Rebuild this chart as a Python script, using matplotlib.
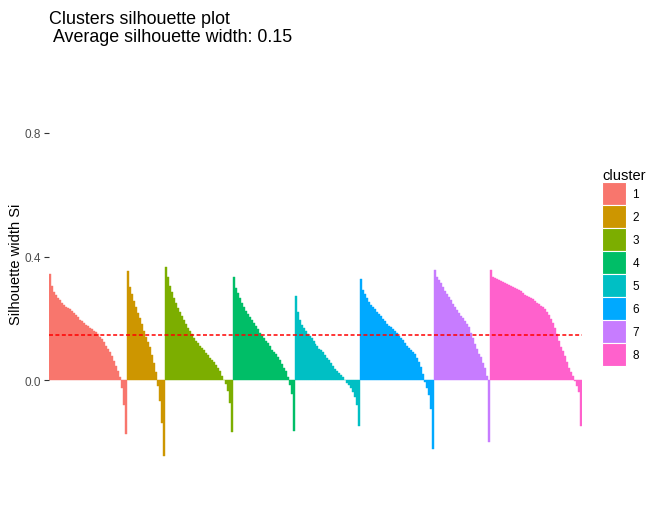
import numpy as np
import matplotlib.pyplot as plt
from matplotlib.patches import Patch

plt.rcParams['font.family'] = ['Liberation Sans', 'DejaVu Sans']

# silhouette widths per cluster, sorted within each cluster
sil_c1 = [0.343, 0.305, 0.286, 0.276, 0.267, 0.259, 0.250, 0.242, 0.238, 0.233,
          0.229, 0.223, 0.217, 0.210, 0.204, 0.196, 0.190, 0.185, 0.179, 0.174,
          0.169, 0.165, 0.160, 0.155, 0.148, 0.141, 0.132, 0.122, 0.111, 0.100,
          0.090, 0.077, 0.063, 0.047, 0.030, 0.009, -0.025, -0.080, -0.175]
sil_c2 = [0.353, 0.300, 0.280, 0.257, 0.237, 0.218, 0.200, 0.181, 0.160, 0.141,
          0.125, 0.106, 0.081, 0.055, 0.027, -0.018, -0.067, -0.140, -0.245]
sil_c3 = [0.366, 0.333, 0.306, 0.284, 0.265, 0.249, 0.234, 0.221, 0.207, 0.194,
          0.181, 0.170, 0.160, 0.149, 0.137, 0.127, 0.119, 0.112, 0.104, 0.097,
          0.088, 0.080, 0.073, 0.066, 0.058, 0.049, 0.039, 0.028, 0.015, 0.002,
          -0.012, -0.035, -0.075, -0.169]
sil_c4 = [0.333, 0.297, 0.281, 0.265, 0.251, 0.237, 0.225, 0.214, 0.203, 0.194,
          0.185, 0.176, 0.165, 0.154, 0.143, 0.136, 0.128, 0.119, 0.109, 0.099,
          0.090, 0.083, 0.074, 0.065, 0.052, 0.040, 0.028, 0.011, -0.015, -0.045,
          -0.164]
sil_c5 = [0.272, 0.219, 0.195, 0.180, 0.169, 0.160, 0.150, 0.144, 0.137, 0.128,
          0.118, 0.110, 0.102, 0.097, 0.090, 0.080, 0.072, 0.064, 0.055, 0.045,
          0.035, 0.028, 0.022, 0.018, 0.010, 0.002, -0.009, -0.015, -0.027, -0.039,
          -0.056, -0.080, -0.150]
sil_c6 = [0.327, 0.291, 0.279, 0.265, 0.253, 0.244, 0.238, 0.231, 0.222, 0.215,
          0.207, 0.198, 0.191, 0.183, 0.176, 0.171, 0.165, 0.158, 0.151, 0.143,
          0.136, 0.129, 0.120, 0.111, 0.104, 0.097, 0.090, 0.083, 0.073, 0.060,
          0.041, 0.019, -0.005, -0.024, -0.048, -0.095, -0.223]
sil_c7 = [0.356, 0.335, 0.324, 0.313, 0.300, 0.289, 0.279, 0.268, 0.259, 0.248,
          0.237, 0.227, 0.216, 0.208, 0.201, 0.192, 0.181, 0.171, 0.154, 0.136,
          0.117, 0.100, 0.086, 0.074, 0.057, 0.039, 0.012, -0.199]
sil_c8 = [0.356, 0.335, 0.331, 0.328, 0.325, 0.322, 0.318, 0.315, 0.312, 0.308,
          0.305, 0.302, 0.299, 0.296, 0.293, 0.289, 0.283, 0.277, 0.272, 0.269,
          0.266, 0.261, 0.255, 0.250, 0.245, 0.241, 0.236, 0.230, 0.222, 0.210,
          0.198, 0.185, 0.170, 0.150, 0.126, 0.106, 0.093, 0.078, 0.058, 0.039,
          0.025, 0.012, -0.004, -0.020, -0.037, -0.148]

clusters = ['1', '2', '3', '4', '5', '6', '7', '8']
sil_lists = [sil_c1, sil_c2, sil_c3, sil_c4, sil_c5, sil_c6, sil_c7, sil_c8]
colors = ['#F8766D', '#CD9600', '#7CAE00', '#00BE67',
          '#00BFC4', '#00A9FF', '#C77CFF', '#FF61CC']
avg_width = 0.146

fig = plt.figure(figsize=(6.62, 5.06), dpi=100)
ax = fig.add_axes([49/662, 1 - 476/506, 533/662, 423/506])

start = 0
for sil, col in zip(sil_lists, colors):
    xs = np.arange(start, start + len(sil))
    ax.bar(xs, sil, width=1.0, align='edge', color=col, edgecolor=col, linewidth=0.3)
    start += len(sil)

ax.axhline(avg_width, color='red', linestyle=(0, (2.6, 1.6)), linewidth=1.1)

ax.set_xlim(0, start)
ax.set_ylim(-0.307, 1.062)
ax.set_yticks([0.0, 0.4, 0.8])
ax.set_yticklabels(['0.0', '0.4', '0.8'])
ax.set_xticks([])
for s in ax.spines.values():
    s.set_visible(False)
ax.tick_params(axis='y', length=3.3, width=0.8, color='#333333', pad=2.5,
               labelsize=8.45, labelcolor='#4D4D4D')
ax.set_ylabel('Silhouette width Si', fontsize=10.56, labelpad=1)

fig.text(49/662, 1 - 11/506,
         'Clusters silhouette plot\n Average silhouette width: %.2f' % avg_width,
         fontsize=12.9, va='top', ha='left', linespacing=1.05)

handles = [Patch(facecolor=c, edgecolor='white', linewidth=0.8) for c in colors]
leg = fig.legend(handles, clusters, loc='upper left',
                 bbox_to_anchor=(602/662, 1 - 169/506), frameon=False,
                 title='cluster', title_fontsize=10.56, fontsize=8.45,
                 handlelength=2.05, handleheight=2.64, labelspacing=0,
                 handletextpad=0.55, borderpad=0, borderaxespad=0,
                 alignment='left')

fig.savefig('out.png', dpi=100)
